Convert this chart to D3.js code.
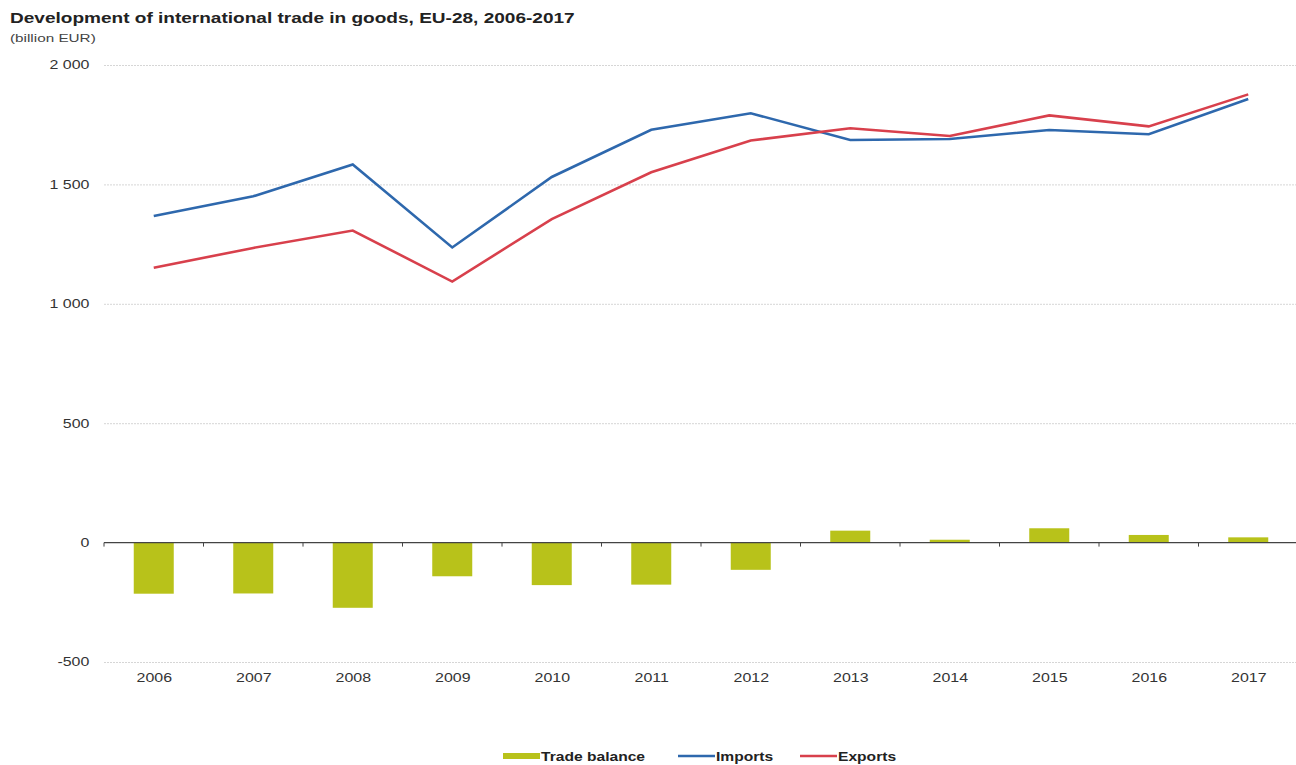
<!DOCTYPE html>
<html>
<head>
<meta charset="utf-8">
<script src="https://cdn.jsdelivr.net/npm/d3@7"></script>
<style>
  body { margin: 0; background: #fff; font-family: "Liberation Sans", Arial, sans-serif; }
  .grid line { stroke: #d6d6d6; stroke-dasharray: 2 1; }
  .grid .domain { display: none; }
  .y-axis text, .x-axis text { fill: #333; font-size: 12px; }
</style>
</head>
<body>
<div class="canvas"></div>
<script>
// data
const years = ['2006', '2007', '2008', '2009', '2010', '2011', '2012', '2013', '2014', '2015', '2016', '2017']
const imports = [1368, 1450, 1583, 1236, 1531, 1729, 1798, 1686, 1690, 1728, 1710, 1858]
const exports = [1151, 1234, 1307, 1093, 1355, 1551, 1684, 1735, 1703, 1789, 1743, 1877]
const tradeBalance = [-214, -213, -273, -141, -178, -176, -114, 50, 12, 60, 32, 22]
const yTicks = [-500, 0, 500, 1000, 1500, 2000]

const width = 1296
const height = 765
const margin = { top: 65, right: -2, bottom: 103, left: 104 }
const graphWidth = width - margin.left - margin.right
const graphHeight = height - margin.top - margin.bottom
// the source picture is stretched sideways, so text is widened to match
const stretch = 1.33

const svg = d3.select('.canvas')
    .append('svg')
    .attr('width', width)
    .attr('height', height)

// title
svg.append('text')
    .attr('transform', `translate(10, 23) scale(1.27, 1)`)
    .style('font-size', '15px').style('font-weight', 'bold').style('fill', '#222')
    .text('Development of international trade in goods, EU-28, 2006-2017')
svg.append('text')
    .attr('transform', `translate(10, 42) scale(${stretch}, 1)`)
    .style('font-size', '11.5px').style('fill', '#444')
    .text('(billion EUR)')

const graph = svg.append('g')
    .attr('transform', `translate(${margin.left}, ${margin.top})`)

// scales
const xPoint = d3.scalePoint().domain(years).range([0, graphWidth]).padding(0.5)
const y = d3.scaleLinear().domain([-500, 2000]).range([graphHeight, 0])

// gridlines
graph.append('g')
    .attr('class', 'grid')
    .call(d3.axisLeft(y).tickValues(yTicks.filter(d => d !== 0)).tickSize(-graphWidth).tickFormat(''))

// y axis labels
const yAxisGroup = graph.append('g')
    .attr('class', 'y-axis')
    .call(d3.axisLeft(y).tickValues(yTicks).tickSize(0).tickPadding(11)
        .tickFormat(d => d3.format(',')(d).replace(/,/g, ' ').replace('\u2212', '-')))
yAxisGroup.select('.domain').remove()
yAxisGroup.selectAll('text').attr('transform', `scale(${stretch}, 1)`)

// bars
graph.append('g')
    .selectAll('rect')
    .data(tradeBalance).enter()
    .append('rect')
    .attr('x', (d, i) => xPoint(years[i]) - 20)
    .attr('width', 40)
    .attr('y', d => y(Math.max(0, d)))
    .attr('height', d => Math.abs(y(d) - y(0)))
    .attr('fill', '#b8c21a')

// zero line with ticks between categories
const step = xPoint.step()
const zeroTicks = d3.range(years.length).map(i => i * step)
const zeroAxis = graph.append('g')
    .attr('transform', `translate(0, ${y(0)})`)
zeroAxis.append('line')
    .attr('x1', 0).attr('x2', graphWidth)
    .attr('stroke', '#444').attr('stroke-width', 1.2)
zeroAxis.selectAll('.ztick')
    .data(zeroTicks).enter()
    .append('line')
    .attr('x1', d => d).attr('x2', d => d)
    .attr('y1', 0).attr('y2', 4)
    .attr('stroke', '#444')

// x labels
const xAxisGroup = graph.append('g')
    .attr('class', 'x-axis')
    .attr('transform', `translate(0, ${graphHeight})`)
    .call(d3.axisBottom(xPoint).tickSize(0).tickPadding(11))
xAxisGroup.select('.domain').remove()
xAxisGroup.selectAll('text').attr('transform', `scale(${stretch}, 1)`)

// lines
const line = d3.line()
    .x((d, i) => xPoint(years[i]))
    .y(d => y(d))

graph.append('path')
    .attr('d', line(imports))
    .attr('fill', 'none')
    .attr('stroke', '#2e68ad')
    .attr('stroke-width', 2.6)

graph.append('path')
    .attr('d', line(exports))
    .attr('fill', 'none')
    .attr('stroke', '#d8404c')
    .attr('stroke-width', 2.6)

// legend
const legend = svg.append('g').attr('transform', 'translate(0, 756)')
const items = [
    { name: 'Trade balance', color: '#b8c21a', type: 'bar', x: 503 },
    { name: 'Imports', color: '#2e68ad', type: 'line', x: 678 },
    { name: 'Exports', color: '#d8404c', type: 'line', x: 800 }
]
items.forEach(it => {
    if (it.type === 'bar') {
        legend.append('rect').attr('x', it.x).attr('y', -3).attr('width', 37).attr('height', 6).attr('fill', it.color)
    } else {
        legend.append('line').attr('x1', it.x).attr('x2', it.x + 37).attr('y1', 0).attr('y2', 0)
            .attr('stroke', it.color).attr('stroke-width', 2.5)
    }
    legend.append('text')
        .attr('transform', `translate(${it.x + 38}, 4.5) scale(1.25, 1)`)
        .style('font-size', '12.5px').style('font-weight', 'bold').style('fill', '#222')
        .text(it.name)
})
</script>
</body>
</html>
